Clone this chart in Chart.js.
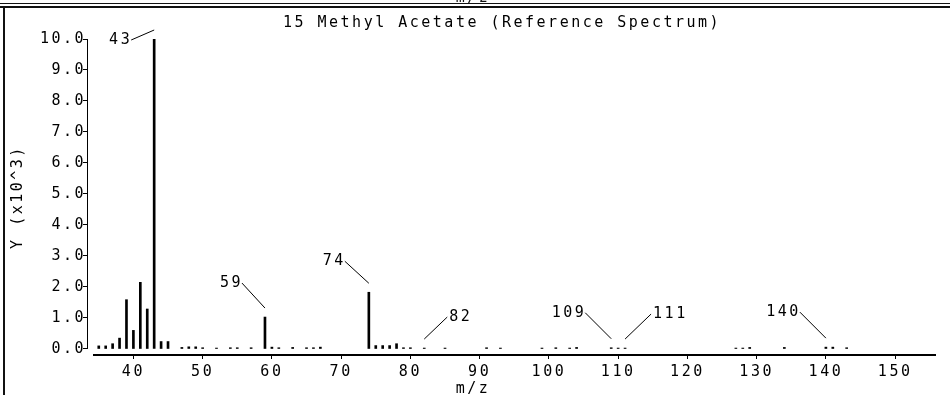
<!DOCTYPE html>
<html>
<head>
<meta charset="utf-8">
<script src="https://cdn.jsdelivr.net/npm/chart.js@4.4.1/dist/chart.umd.min.js"></script>
<style>
  html, body { margin: 0; padding: 0; background: #fff; }
  #wrap { width: 950px; height: 395px; }
</style>
</head>
<body>
<div id="wrap"><canvas id="spectrumChart"></canvas></div>
<script>
// m/z values and their abundances (counts)
const massToCharge = [35, 36, 37, 38, 39, 40, 41, 42, 43, 44, 45, 47, 48, 49, 50, 52, 54, 55, 57, 59, 60, 61, 63, 65, 66, 67,
  74, 75, 76, 77, 78, 79, 80, 82, 85, 91, 93, 99, 101, 103, 104, 109, 110, 111, 127, 128, 129, 134, 140, 141, 143];
const abundance = [100, 100, 170, 350, 1590, 600, 2150, 1290, 10000, 240, 240, 50, 70, 70, 40, 30, 40, 40, 40, 1030, 60, 40, 50, 40, 40, 60,
  1830, 110, 110, 110, 170, 40, 40, 30, 30, 40, 30, 30, 40, 30, 50, 40, 30, 30, 30, 30, 50, 50, 60, 60, 40];
const labelledPeaks = [43, 59, 74, 82, 109, 111, 140];
const xTickValues = [40, 50, 60, 70, 80, 90, 100, 110, 120, 130, 140, 150];
const yTickValues = [0, 1000, 2000, 3000, 4000, 5000, 6000, 7000, 8000, 9000, 10000];

const chartTitle = '15 Methyl Acetate (Reference Spectrum)';
const xAxisTitle = 'm/z';
const yAxisTitle = 'Y (x10^3)';

const FONT = '"DejaVu Sans Mono", "Liberation Mono", monospace';
const tickFont = { family: FONT, size: 15 };

// callout offsets (px) from the top of each labelled peak
const calloutOffsets = {
  43: [-23, 10], 59: [-23, -25], 74: [-24, -22], 82: [23, -22],
  109: [-26, -26], 111: [26, -25], 140: [-26, -26]
};

const framePlugin = {
  id: 'frame',
  beforeDraw(chart) {
    const ctx = chart.ctx;
    ctx.letterSpacing = '2.5px';
    ctx.save();
    ctx.strokeStyle = '#111';
    ctx.lineWidth = 1;
    ctx.beginPath();
    ctx.moveTo(0, 3.5); ctx.lineTo(chart.width, 3.5);
    ctx.stroke();
    ctx.lineWidth = 2;
    ctx.beginPath();
    ctx.moveTo(0, 7); ctx.lineTo(chart.width, 7);
    ctx.moveTo(4, 7); ctx.lineTo(4, chart.height);
    ctx.stroke();
    // clipped axis caption of the panel above
    ctx.fillStyle = '#111';
    ctx.font = '15px ' + FONT;
    ctx.textAlign = 'center';
    ctx.textBaseline = 'alphabetic';
    ctx.fillText(xAxisTitle, 473, 2);
    ctx.restore();
  },
  afterDraw(chart) {
    const ctx = chart.ctx;
    const x = chart.scales.x, y = chart.scales.y, area = chart.chartArea;
    ctx.save();
    ctx.strokeStyle = '#000';
    ctx.lineWidth = 1;
    ctx.beginPath();
    const yl = Math.round(area.left) + 0.5;
    ctx.moveTo(yl, y.getPixelForValue(y.max));
    ctx.lineTo(yl, y.getPixelForValue(0));
    ctx.stroke();
    ctx.lineWidth = 2;
    ctx.beginPath();
    ctx.moveTo(area.left + 6, area.bottom);
    ctx.lineTo(area.right, area.bottom);
    ctx.stroke();

    // peak callouts
    ctx.lineWidth = 1;
    ctx.fillStyle = '#000';
    ctx.font = '15px ' + FONT;
    ctx.textBaseline = 'middle';
    labelledPeaks.forEach(mz => {
      const i = massToCharge.indexOf(mz);
      const px = x.getPixelForValue(mz);
      const py = y.getPixelForValue(abundance[i]) - 9;
      const [dx, dy] = calloutOffsets[mz];
      ctx.beginPath();
      ctx.moveTo(px, py);
      ctx.lineTo(px + dx, py + dy);
      ctx.stroke();
      ctx.textAlign = dx < 0 ? 'right' : 'left';
      ctx.fillText(String(mz), px + dx + (dx < 0 ? 1 : 2), py + dy);
    });

    ctx.textBaseline = 'alphabetic';
    ctx.textAlign = 'center';
    ctx.fillText(chartTitle, 502, 27);
    ctx.fillText(xAxisTitle, 473, 393);
    ctx.restore();
  }
};

new Chart(document.getElementById('spectrumChart').getContext('2d'), {
  type: 'bar',
  data: {
    datasets: [{
      label: 'Methyl Acetate',
      data: massToCharge.map((m, i) => ({ x: m, y: abundance[i] })),
      backgroundColor: '#000',
      borderWidth: 0,
      barThickness: 2
    }]
  },
  options: {
    responsive: true,
    maintainAspectRatio: false,
    animation: false,
    devicePixelRatio: 1,
    layout: { padding: { top: 39, right: 14, bottom: 0, left: 0 } },
    plugins: {
      legend: { display: false },
      tooltip: { enabled: false },
      title: { display: false }
    },
    scales: {
      x: {
        type: 'linear',
        position: 'bottom',
        offset: false,
        min: 33.3,
        max: 155.9,
        border: { display: false },
        grid: { offset: false, drawOnChartArea: false, drawTicks: true, tickLength: 4, color: '#000' },
        ticks: {
          autoSkip: false, maxRotation: 0,
          color: '#000', font: tickFont, padding: 4,
          callback: v => String(v)
        },
        afterBuildTicks: s => { s.ticks = xTickValues.map(v => ({ value: v })); },
        afterFit: s => { s.height = 40; }
      },
      y: {
        min: -194,
        max: 10000,
        border: { display: false },
        grid: { drawOnChartArea: false, drawTicks: true, tickLength: 4, color: '#000' },
        ticks: {
          color: '#000', font: tickFont, padding: -3,
          callback: v => (v / 1000).toFixed(1)
        },
        afterBuildTicks: s => { s.ticks = yTickValues.map(v => ({ value: v })); },
        title: {
          display: true, text: yAxisTitle, color: '#000', font: tickFont,
          padding: { top: 9, bottom: 0 }
        },
        afterFit: s => { s.width = 87; }
      }
    }
  },
  plugins: [framePlugin]
});
</script>
</body>
</html>
